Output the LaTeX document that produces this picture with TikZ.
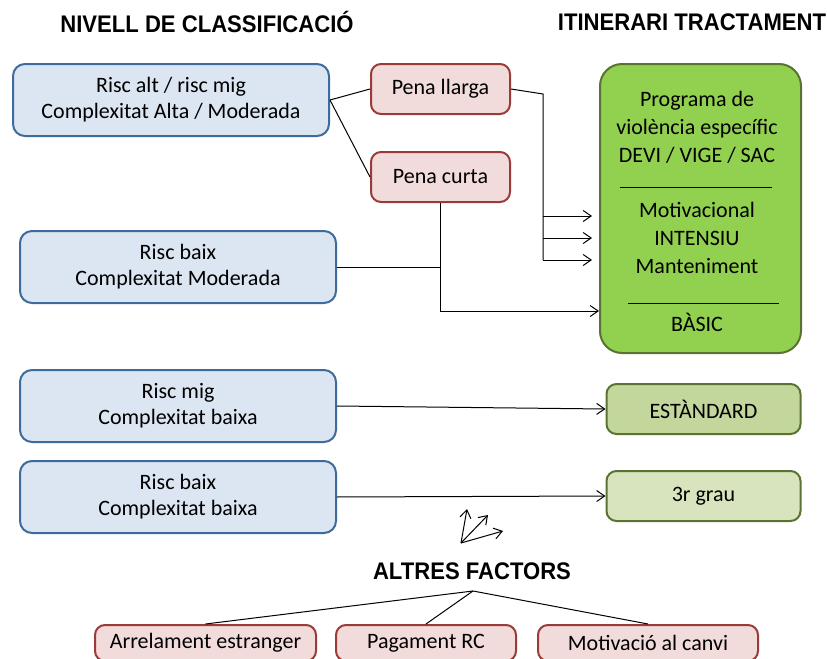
\documentclass[tikz,border=0pt]{standalone}
\usepackage{fontspec}
\setmainfont{Carlito}
\newfontfamily\titlefont[FakeStretch=0.92]{Liberation Sans}
\usepackage{tikz}
\usetikzlibrary{positioning,calc,arrows.meta}

\definecolor{blueFill}{HTML}{DCE6F2}
\definecolor{blueLine}{HTML}{3F6A9C}
\definecolor{redFill}{HTML}{F2DCDB}
\definecolor{redLine}{HTML}{9B3B38}
\definecolor{greenFill}{HTML}{92D050}
\definecolor{greenLine}{HTML}{5A7330}
\definecolor{midGreen}{HTML}{C3D69B}
\definecolor{lightGreen}{HTML}{D7E4BD}

\tikzset{
    title/.style={font=\titlefont\bfseries\fontsize{12}{13}\selectfont},
    nivell/.style={draw=blueLine,fill=blueFill,line width=1pt,rounded corners=6pt,
        minimum width=158pt,minimum height=36pt,align=center,inner sep=0pt,
        font=\fontsize{11}{13}\selectfont},
    pena/.style={draw=redLine,fill=redFill,line width=1pt,rounded corners=5pt,
        minimum height=25pt,inner sep=0pt,font=\fontsize{11}{12}\selectfont},
    itin/.style={draw=greenLine,line width=1pt,rounded corners=5pt,minimum width=97pt,
        minimum height=25pt,inner sep=0pt,font=\fontsize{11}{12}\selectfont},
    link/.style={line width=0.5pt},
    >={Straight Barb[length=4pt,width=5.5pt]}
}

\begin{document}
\begin{tikzpicture}[x=0.5pt,y=-0.5pt]
    \useasboundingbox (0,0) rectangle (827,659);

    \node[title] (tNivell) at (207,22) {NIVELL DE CLASSIFICACIÓ};
    \node[title] (tItin) at (692,22) {ITINERARI TRACTAMENT};

    % nivells de classificacio
    \node[nivell] (nAlt) at (171,100) {Risc alt / risc mig\\Complexitat Alta / Moderada};
    \node[nivell] (nBaixMod) at (178,267) {Risc baix\\Complexitat Moderada};
    \node[nivell] (nMig) at (178,406) {Risc mig\\Complexitat baixa};
    \node[nivell] (nBaix) at (178,497) {Risc baix\\Complexitat baixa};

    \node[pena,minimum width=69.5pt] (pLlarga) at (440.5,89) {Pena llarga};
    \node[pena,minimum width=69.5pt] (pCurta) at (440.5,177) {Pena curta};

    % itineraris
    \node[draw=greenLine,fill=greenFill,line width=1pt,rounded corners=11pt,
        minimum width=100.5pt,minimum height=144.5pt] (intensiu) at (700.5,208.5) {};
    \node[align=center,font=\fontsize{11}{14}\selectfont] (progEsp) at (697,127)
        {Programa de\\violència específic\\DEVI / VIGE / SAC};
    \node[align=center,font=\fontsize{11}{14}\selectfont] (progMot) at (697,238)
        {Motivacional\\INTENSIU\\Manteniment};
    \node[font=\fontsize{11}{14}\selectfont] (progBas) at (697,322) {BÀSIC};
    \draw[link] (620,187) -- (772,187);
    \draw[link] (628,303) -- (779,303);

    \node[itin,fill=midGreen] (estandard) at (703.5,409) {ESTÀNDARD};
    \node[itin,fill=lightGreen] (tercer) at (703.5,496) {3r grau};

    % connexions
    \draw[link] (nAlt.east) -- (pLlarga.west);
    \draw[link] (nAlt.east) -- (pCurta.west);

    \coordinate (jLlarga) at (543,94);
    \coordinate (a1) at (543,216);
    \coordinate (a2) at (543,238);
    \coordinate (a3) at (543,260);
    \draw[link] (pLlarga.east) -- (jLlarga) -- (a3);
    \foreach \a in {a1,a2,a3}
        \draw[link,->,shorten >=3.5pt] (\a) -- (\a -| intensiu.west);

    \coordinate (jCurta) at (440.5,311);
    \draw[link] (nBaixMod.east) -- (nBaixMod.east -| pCurta.south);
    \draw[link,->] (pCurta.south) -- (jCurta) -- (jCurta -| intensiu.west);

    \draw[link,->] (nMig.east) -- (estandard.west);
    \draw[link,->] (nBaix.east) -- (tercer.west);

    % altres factors
    \coordinate (fOrig) at (461,543);
    \draw[link,->] (fOrig) -- ++(6,-34);
    \draw[link,->] (fOrig) -- ++(27,-28);
    \draw[link,->] (fOrig) -- ++(42,-12);

    \node[title] (altres) at (472,571) {ALTRES FACTORS};
    \coordinate (fTop) at (473,591);

    \node[pena,minimum width=110.5pt,minimum height=18pt] (fArrel) at (205.5,643) {Arrelament estranger};
    \node[pena,minimum width=90pt,minimum height=18pt] (fPag) at (426,643) {Pagament RC};
    \node[pena,minimum width=110pt,minimum height=18pt] (fMotiv) at (648,643) {Motivació al canvi};
    \draw[link] (fTop) -- (fArrel.north);
    \draw[link] (fTop) -- (fPag.north);
    \draw[link] (fTop) -- (fMotiv.north);
\end{tikzpicture}
\end{document}
